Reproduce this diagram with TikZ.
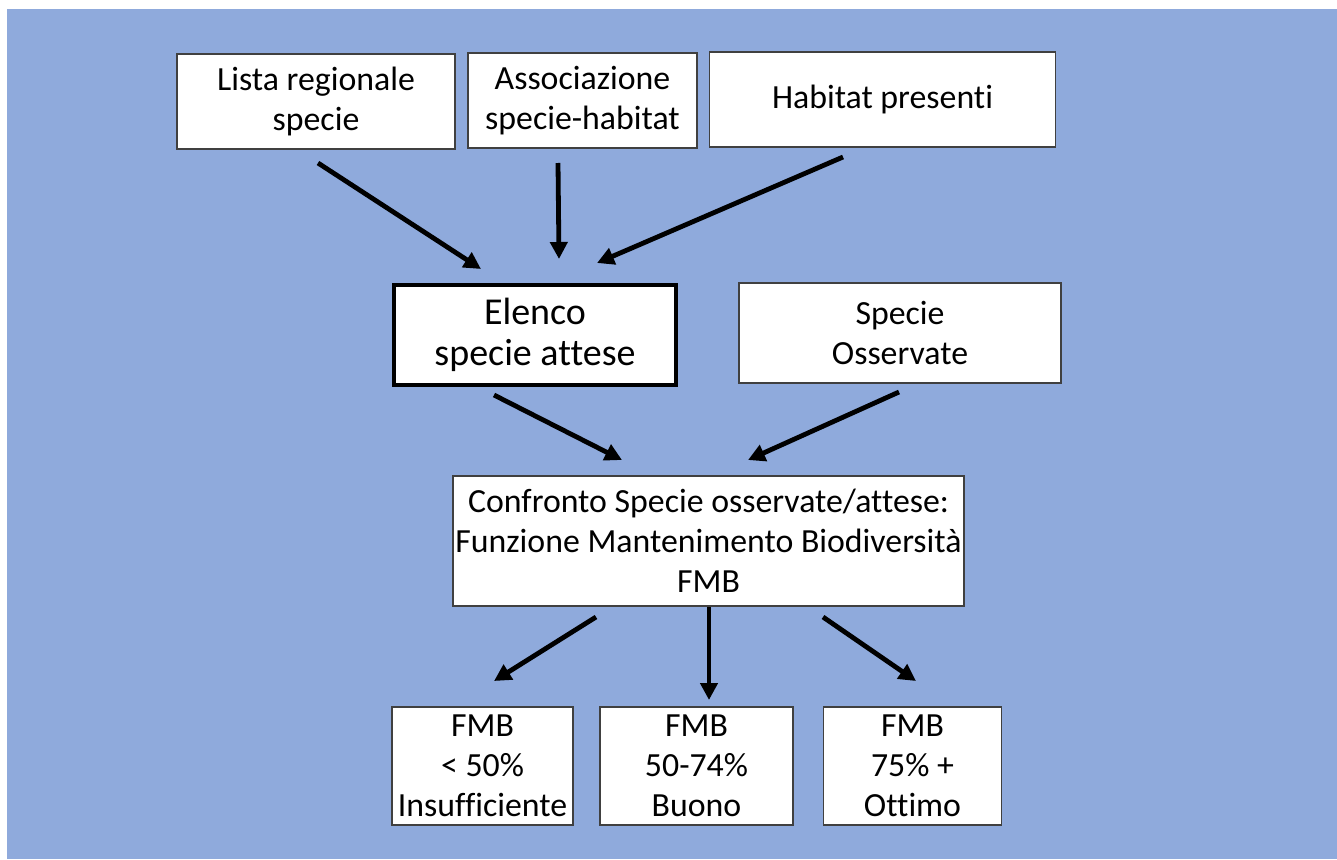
\documentclass[tikz,border=0pt]{standalone}
\usepackage{fontspec}
\setmainfont{Carlito}[Ligatures=NoCommon]
\usetikzlibrary{arrows.meta}
\definecolor{bgblue}{HTML}{8FAADC}
\definecolor{edgegray}{HTML}{404040}

\begin{document}
\begin{tikzpicture}[x=1pt,y=-1pt,
  box/.style={draw=edgegray,line width=1.3pt,fill=white,align=center,inner sep=0pt,
    font=\fontsize{33.8}{40}\selectfont},
  arr/.style={line width=4.8pt,-{Triangle[length=17pt,width=17pt]}}]
\useasboundingbox (0,0) rectangle (1337,859);
\fill[bgblue] (7,9) rectangle (1337,859);
% sources
\node[box,minimum width=278pt,minimum height=95pt] (lista) at (316,101.5) {Lista regionale\\specie};
\node[box,minimum width=229pt,minimum height=95pt] (assoc) at (582.5,100.5) {Associazione\\specie-habitat};
\node[box,minimum width=346pt,minimum height=95pt] (habitat) at (882.5,99.5) {Habitat presenti};
% middle row
\node[box,draw=black,line width=4pt,minimum width=282pt,minimum height=100pt,
  font=\fontsize{38}{41}\selectfont] (elenco) at (535,335) {Elenco\\specie attese};
\node[box,minimum width=322pt,minimum height=100pt] (osservate) at (900,333) {Specie\\Osservate};
% comparison
\node[box,minimum width=511pt,minimum height=130pt] (confronto) at (708.5,541) {Confronto Specie osservate/attese:\\Funzione Mantenimento Biodiversità\\FMB};
% classes
\node[box,minimum width=181pt,minimum height=118pt] (fmbA) at (482.5,766) {FMB\\< 50\%\\Insufficiente};
\node[box,minimum width=193pt,minimum height=118pt] (fmbB) at (696.5,766) {FMB\\50-74\%\\Buono};
\node[box,minimum width=178pt,minimum height=118pt] (fmbC) at (912.5,766) {FMB\\75\% +\\Ottimo};
% arrow ends
\coordinate (listaOut) at (318,163);
\coordinate (assocOut) at (558,163);
\coordinate (habitatOut) at (843,157);
\coordinate (elencoInA) at (481,269);
\coordinate (elencoInB) at (559,259);
\coordinate (elencoInC) at (597,263);
\coordinate (elencoOut) at (494,395);
\coordinate (osservateOut) at (899,392);
\coordinate (confrontoInA) at (622,460);
\coordinate (confrontoInB) at (748,460);
\coordinate (confrontoOutA) at (596,617);
\coordinate (confrontoOutB) at (709,607);
\coordinate (confrontoOutC) at (823,617);
\coordinate (fmbAIn) at (494,681);
\coordinate (fmbBIn) at (709,700);
\coordinate (fmbCIn) at (916,681);
\draw[arr] (listaOut) -- (elencoInA);
\draw[arr] (assocOut) -- (elencoInB);
\draw[arr] (habitatOut) -- (elencoInC);
\draw[arr] (elencoOut) -- (confrontoInA);
\draw[arr] (osservateOut) -- (confrontoInB);
\draw[arr] (confrontoOutA) -- (fmbAIn);
\draw[arr] (confrontoOutB) -- (fmbBIn);
\draw[arr] (confrontoOutC) -- (fmbCIn);
\end{tikzpicture}
\end{document}
